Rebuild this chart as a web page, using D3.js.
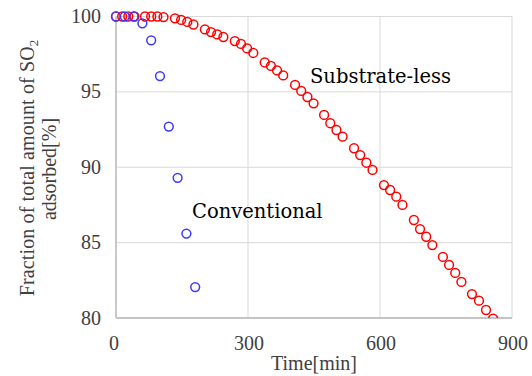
<!DOCTYPE html>
<html>
<head>
<meta charset="utf-8">
<script src="https://cdn.jsdelivr.net/npm/d3@7"></script>
<style>
  body { margin: 0; background: #fff; }
</style>
</head>
<body>
<div id="chart"></div>
<script>
// Substrate-less (red) series
const subTime = [0, 14, 28, 42, 66, 80, 94, 108, 134, 148, 162, 176,
    202, 216, 230, 244, 270, 284, 298, 312, 338, 352, 366, 380,
    407, 421, 435, 449, 473, 487, 501, 515, 541, 555, 569, 583,
    609, 623, 637, 651, 677, 691, 705, 719, 743, 757, 771, 785,
    809, 825, 841, 857];
const subValue = [100, 100, 100, 100, 100, 100, 100, 99.96, 99.88, 99.77, 99.64, 99.47,
    99.14, 98.97, 98.81, 98.64, 98.37, 98.18, 97.88, 97.58, 96.95, 96.72, 96.42, 96.09,
    95.46, 95.06, 94.66, 94.24, 93.47, 92.92, 92.47, 92.03, 91.26, 90.81, 90.30, 89.82,
    88.82, 88.49, 88.05, 87.5, 86.5, 85.9, 85.39, 84.84, 84.05, 83.52, 82.99, 82.39,
    81.59, 81.15, 80.53, 79.95];

// Conventional (blue) series
const convTime = [0, 20, 40, 60, 80, 100, 120, 140, 160, 180];
const convValue = [100, 100, 100, 99.55, 98.42, 96.05, 92.7, 89.3, 85.6, 82.05];

const xTicks = [0, 300, 600, 900];
const yTicks = [80, 85, 90, 95, 100];

const W = 532, H = 376;
const margin = {top: 16.5, right: 20, bottom: 58, left: 116};

const svg = d3.select("#chart").append("svg")
    .attr("width", W)
    .attr("height", H);

const x = d3.scaleLinear().domain([0, 900]).range([margin.left, W - margin.right]);
const y = d3.scaleLinear().domain([80, 100]).range([H - margin.bottom, margin.top]);

const serif = "Liberation Serif";

// gridlines
svg.append("g")
    .selectAll("line.h")
    .data(yTicks)
    .enter().append("line")
    .attr("x1", x(0)).attr("x2", x(900))
    .attr("y1", d => y(d)).attr("y2", d => y(d))
    .attr("stroke", "#d9d9d9").attr("stroke-width", 1);

svg.append("g")
    .selectAll("line.v")
    .data(xTicks)
    .enter().append("line")
    .attr("x1", d => x(d)).attr("x2", d => x(d))
    .attr("y1", y(80)).attr("y2", y(100))
    .attr("stroke", "#d9d9d9").attr("stroke-width", 1);

// axis lines
svg.append("line")
    .attr("x1", x(0)).attr("x2", x(0))
    .attr("y1", y(80)).attr("y2", y(100))
    .attr("stroke", "#c4c4c4").attr("stroke-width", 1.8);
svg.append("line")
    .attr("x1", x(0)).attr("x2", x(900))
    .attr("y1", y(80)).attr("y2", y(80))
    .attr("stroke", "#c4c4c4").attr("stroke-width", 1.8);

// tick labels
svg.append("g")
    .selectAll("text")
    .data(yTicks)
    .enter().append("text")
    .attr("x", 101)
    .attr("y", d => y(d))
    .attr("dy", "0.33em")
    .attr("text-anchor", "end")
    .style("font-family", serif)
    .style("font-size", "20px")
    .attr("fill", "#404040")
    .text(d => d);

svg.append("g")
    .selectAll("text")
    .data(xTicks)
    .enter().append("text")
    .attr("x", d => x(d) + (d === 0 ? -2 : 1))
    .attr("y", 350)
    .attr("text-anchor", "middle")
    .style("font-family", serif)
    .style("font-size", "20px")
    .attr("fill", "#404040")
    .text(d => d);

// axis titles
svg.append("text")
    .attr("x", 314)
    .attr("y", 370)
    .attr("text-anchor", "middle")
    .style("font-family", serif)
    .style("font-size", "20px")
    .attr("fill", "#404040")
    .text("Time[min]");

const yt = svg.append("text")
    .attr("transform", "translate(34,168) rotate(-90)")
    .attr("text-anchor", "middle")
    .style("font-family", serif)
    .style("font-size", "20px")
    .attr("fill", "#404040");
yt.append("tspan").attr("textLength", 250).attr("lengthAdjust", "spacing")
    .text("Fraction of total amount of SO");
yt.append("tspan").style("font-size", "13px").attr("dy", 4).text("2");

svg.append("text")
    .attr("transform", "translate(56,169) rotate(-90)")
    .attr("text-anchor", "middle")
    .style("font-family", serif)
    .style("font-size", "20px")
    .attr("fill", "#404040")
    .text("adsorbed[%]");

// clip markers at the bottom of the plot area
svg.append("clipPath").attr("id", "plotclip")
    .append("rect")
    .attr("x", 100).attr("y", 0)
    .attr("width", 432).attr("height", y(80));

const marks = svg.append("g").attr("clip-path", "url(#plotclip)");

marks.selectAll("circle.sub")
    .data(subTime.map((t, i) => [t, subValue[i]]))
    .enter().append("circle")
    .attr("cx", d => x(d[0]))
    .attr("cy", d => y(d[1]))
    .attr("r", 4.4)
    .attr("fill", "none")
    .attr("stroke", "#ff0000")
    .attr("stroke-width", 1.5);

marks.selectAll("circle.conv")
    .data(convTime.map((t, i) => [t, convValue[i]]))
    .enter().append("circle")
    .attr("cx", d => x(d[0]))
    .attr("cy", d => y(d[1]))
    .attr("r", 4.4)
    .attr("fill", "none")
    .attr("stroke", "#3a3aff")
    .attr("stroke-width", 1.5);

// series labels
const labelFont = "DejaVu Serif";
svg.append("text")
    .attr("x", 310).attr("y", 83)
    .style("font-family", labelFont)
    .style("font-size", "19.5px")
    .attr("fill", "#000")
    .text("Substrate-less");
svg.append("text")
    .attr("x", 192).attr("y", 218)
    .style("font-family", labelFont)
    .style("font-size", "19.5px")
    .attr("fill", "#000")
    .text("Conventional");
</script>
</body>
</html>
